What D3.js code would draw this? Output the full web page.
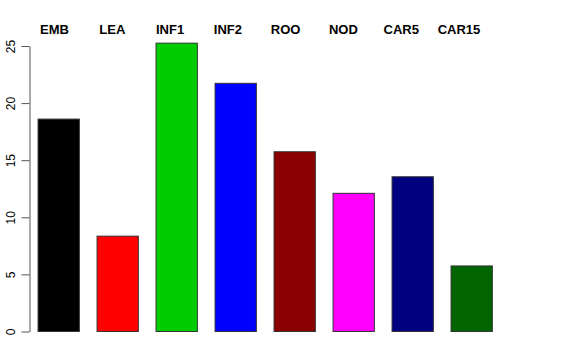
<!DOCTYPE html>
<html>
<head>
<meta charset="utf-8">
<script src="https://cdn.jsdelivr.net/npm/d3@7"></script>
<style>
  html, body { margin: 0; padding: 0; background: #fff; }
  svg { display: block; }
</style>
</head>
<body>
<svg id="chart" width="576" height="360"></svg>
<script>
// barras estilo R base: una categoría por barra, etiquetas arriba en negrita
const categories = ['EMB', 'LEA', 'INF1', 'INF2', 'ROO', 'NOD', 'CAR5', 'CAR15'];
const values = [18.6, 8.35, 25.25, 21.73, 15.74, 12.1, 13.55, 5.74];
const colors = ['#000000', '#FF0000', '#00CD00', '#0000FF', '#8B0000', '#FF00FF', '#000080', '#006400'];
const yTicks = [0, 5, 10, 15, 20, 25];

const W = 576, H = 360;
const svg = d3.select('#chart');

const x = d3.scaleBand().domain(categories).range([29.2, 501.2])
  .paddingInner(0.3).paddingOuter(0.15);
const y = d3.scaleLinear().domain([0, 25]).range([331.5, 46]);

// barras
svg.append('g').selectAll('rect').data(categories).join('rect')
  .attr('x', c => x(c))
  .attr('y', (c, i) => y(values[i]))
  .attr('width', x.bandwidth())
  .attr('height', (c, i) => y(0) - y(values[i]))
  .attr('fill', (c, i) => colors[i])
  .attr('stroke', '#333').attr('stroke-width', 1);

// eje y (rótulos girados, como en R)
const gy = svg.append('g').attr('transform', 'translate(29.5,0)')
  .call(d3.axisLeft(y).tickValues(yTicks).tickSize(8).tickPadding(6).tickSizeOuter(0));
gy.select('.domain').attr('stroke', '#555');
gy.selectAll('.tick line').attr('stroke', '#555');
gy.selectAll('.tick text')
  .attr('font-family', 'Liberation Sans, Arial, sans-serif').attr('font-size', 12)
  .attr('fill', '#000')
  .attr('text-anchor', 'middle').attr('dy', 0)
  .attr('transform', 'translate(-14.5,0) rotate(-90)')
  .attr('x', 0).attr('y', 0);

// etiquetas de categoría arriba (espaciado regular, algo desplazado de las barras)
const lx = d3.scalePoint().domain(categories).range([54.5, 459]);
svg.append('g').selectAll('text').data(categories).join('text')
  .attr('x', c => lx(c)).attr('y', 34)
  .attr('text-anchor', 'middle')
  .attr('font-family', 'Liberation Sans, Arial, sans-serif')
  .attr('font-weight', 'bold').attr('font-size', 13)
  .attr('fill', '#000')
  .text(c => c);
</script>
</body>
</html>
